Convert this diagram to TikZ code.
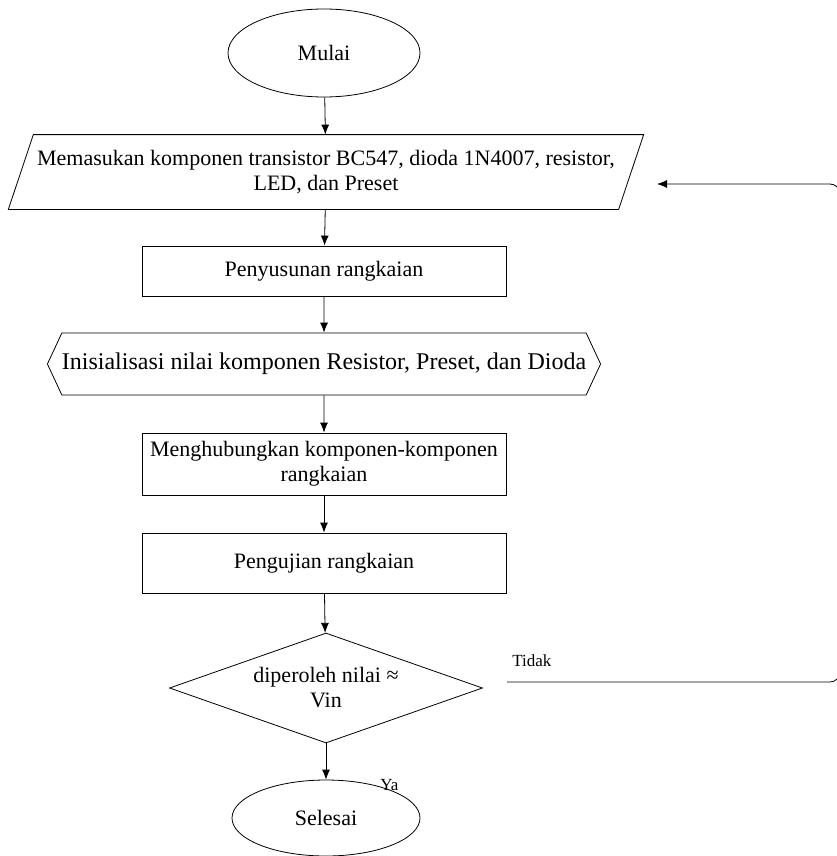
\documentclass[tikz,border=0pt]{standalone}
\usepackage{fontspec}
\setmainfont{Liberation Serif}
\usetikzlibrary{arrows.meta,calc,shapes.geometric,shapes.symbols}

\begin{document}
\begin{tikzpicture}[x=0.5pt,y=-0.5pt,>={Latex[length=5pt,width=4pt]}]
	\tikzstyle{every node}+=[font=\fontsize{11}{12.5}\selectfont]
	\tikzstyle{terminal}=[draw,ellipse,minimum width=96pt,minimum height=44pt,inner sep=0pt]
	\tikzstyle{inout}=[rectangle,minimum width=304.75pt,minimum height=37pt,align=center,inner sep=0pt]
	\tikzstyle{process}=[draw,rectangle,minimum width=182pt,align=center,inner sep=0pt]
	\tikzstyle{prep}=[draw,signal,signal to=west and east,signal pointer angle=130,minimum width=274pt,minimum height=31pt,inner sep=0pt,font=\fontsize{12}{14}\selectfont]
	\tikzstyle{decision}=[draw,diamond,aspect=2.85,minimum width=156.5pt,minimum height=55pt,align=center,inner sep=0pt]
	\tikzstyle{small label}=[font=\fontsize{8.5}{10}\selectfont,inner sep=0pt]
	\useasboundingbox (0,0) rectangle (836,856);
	% langkah-langkah
	\node [terminal] (mulai) at (324,53) {Mulai};
	\node [inout] (input) at (326,172) {Memasukan komponen transistor BC547, dioda 1N4007, resistor,\\ LED, dan Preset};
	\draw ($(input.south west)+(-12.5,0)$) -- ($(input.north west)+(12.5,0)$) -- ($(input.north east)+(12.5,0)$) -- ($(input.south east)+(-12.5,0)$) -- cycle;
	\node [process,minimum height=25pt] (susun) at (324,271) {Penyusunan rangkaian};
	\node [prep] (inisial) at (324,364) {Inisialisasi nilai komponen Resistor, Preset, dan Dioda};
	\node [process,minimum height=31pt] (hubung) at (324,464) {Menghubungkan komponen-komponen\\ rangkaian};
	\node [process,minimum height=30pt] (uji) at (324,563) {Pengujian rangkaian};
	\node [decision] (cek) at (326,688) {diperoleh nilai ≈\\ Vin};
	\node [terminal,minimum width=94pt,minimum height=38pt] (selesai) at (326,818) {Selesai};
	\node [small label,anchor=west] (ya) at (380,785) {Ya};
	\node [small label,anchor=west] (tidak) at (512,661) {Tidak};
	% panah
	\draw [->] (mulai) -- (input);
	\draw [->] (input) -- (susun);
	\draw [->] (susun) -- (inisial);
	\draw [->] (inisial) -- (hubung);
	\draw [->] (hubung) -- (uji);
	\draw [->] (uji) -- (cek);
	\draw [->] (cek) -- (selesai);
	% kembali jika tidak
	\coordinate (tidak awal) at (507,682);
	\coordinate (balik) at (657,184);
	\draw [->,rounded corners=5pt] (tidak awal) -- (840,682) -- (840,184) -- (balik);
\end{tikzpicture}
\end{document}
